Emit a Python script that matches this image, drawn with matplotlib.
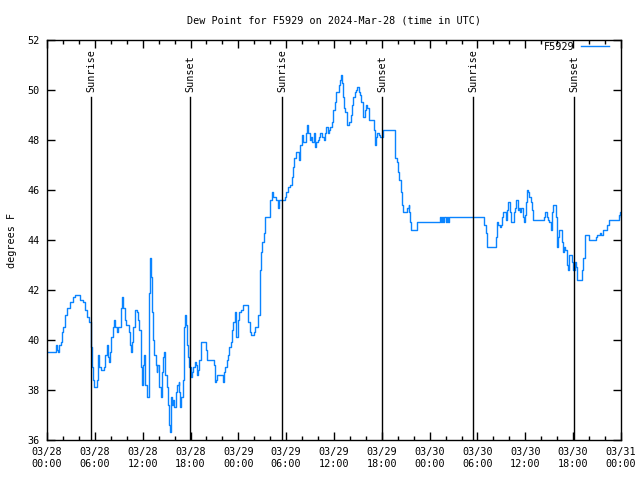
import matplotlib
matplotlib.use('Agg')
import matplotlib.pyplot as plt
import numpy as np

# hours after 2024-03-28 00:00 UTC, dew point in F
hours = [0.13, 0.88, 1.07, 1.25, 1.38, 1.5, 1.72, 1.88, 2.04, 2.22, 2.47, 2.89, 3.3, 3.47, 3.98, 4.14,
         4.48, 4.73, 4.98, 5.23, 5.48, 5.56, 5.64, 5.81, 5.93, 6.23, 6.31, 6.43, 6.56, 6.74, 6.99, 7.15,
         7.31, 7.49, 7.61, 7.74, 7.9, 8.07, 8.24, 8.4, 8.57, 8.74, 8.91, 9.16, 9.32, 9.45, 9.57, 9.75,
         9.91, 10.16, 10.32, 10.41, 10.54, 10.66, 10.83, 11.0, 11.25, 11.41, 11.58, 11.75, 11.92, 12.04,
         12.17, 12.33, 12.51, 12.76, 12.83, 12.96, 13.05, 13.17, 13.33, 13.46, 13.64, 13.76, 13.84, 14.01,
         14.09, 14.26, 14.43, 14.59, 14.71, 14.84, 15.02, 15.18, 15.34, 15.43, 15.59, 15.72, 15.84, 15.97,
         16.18, 16.34, 16.52, 16.6, 16.72, 16.85, 17.02, 17.1, 17.22, 17.35, 17.44, 17.52, 17.69, 17.85,
         18.03, 18.19, 18.35, 18.53, 18.69, 18.78, 18.94, 19.1, 19.28, 19.36, 19.86, 19.94, 20.11, 20.86,
         20.95, 21.11, 21.2, 21.36, 21.86, 22.04, 22.2, 22.37, 22.54, 22.7, 22.87, 23.04, 23.21, 23.37,
         23.54, 23.62, 23.75, 23.92, 24.08, 24.34, 24.59, 25.09, 25.25, 25.46, 25.59, 25.84, 25.93, 26.09,
         26.34, 26.5, 26.68, 26.76, 26.84, 27.01, 27.18, 27.35, 27.76, 27.93, 28.01, 28.19, 28.35, 28.76,
         28.94, 29.1, 29.35, 29.69, 29.85, 30.02, 30.27, 30.52, 30.69, 30.86, 31.02, 31.2, 31.45, 31.61,
         31.77, 31.95, 32.11, 32.45, 32.53, 32.65, 32.78, 32.95, 33.12, 33.28, 33.46, 33.62, 33.78, 33.96,
         34.12, 34.28, 34.46, 34.71, 34.87, 35.04, 35.21, 35.37, 35.54, 35.71, 35.88, 36.09, 36.25, 36.59,
         36.75, 36.84, 36.97, 37.09, 37.26, 37.42, 37.59, 37.67, 37.85, 38.01, 38.1, 38.26, 38.42, 38.6,
         38.76, 38.92, 39.1, 39.26, 39.43, 39.6, 39.68, 39.85, 40.02, 40.18, 40.36, 40.93, 41.02, 41.18,
         41.27, 41.43, 41.61, 41.77, 41.94, 42.11, 43.44, 43.62, 43.87, 44.03, 44.19, 44.37, 44.53, 44.7,
         45.12, 45.2, 45.37, 45.45, 45.53, 45.7, 46.2, 46.37, 49.17, 49.3, 49.42, 49.55, 49.67, 49.86,
         50.05, 50.18, 50.3, 50.43, 54.73, 54.86, 55.03, 55.19, 56.2, 56.28, 56.45, 56.61, 56.79, 56.95,
         57.11, 57.2, 57.36, 57.54, 57.7, 57.87, 58.04, 58.2, 58.37, 58.54, 58.71, 58.87, 59.04, 59.21,
         59.37, 59.5, 59.67, 59.83, 59.92, 60.09, 60.17, 60.34, 60.5, 60.67, 60.84, 60.92, 61.0, 62.25,
         62.34, 62.5, 62.68, 62.84, 63.0, 63.18, 63.26, 63.34, 63.51, 63.76, 63.85, 63.94, 64.01, 64.1,
         64.26, 64.51, 64.6, 64.77, 64.85, 65.02, 65.19, 65.35, 65.51, 65.69, 65.86, 66.02, 66.19, 66.36,
         66.52, 66.7, 67.02, 67.11, 67.28, 67.45, 67.87, 68.03, 68.78, 68.87, 69.03, 69.37, 69.53, 69.7,
         70.03, 70.28, 70.45, 71.54, 71.71, 71.88, 71.96]
dewpt = [39.5, 39.5, 39.8, 39.6, 39.5, 39.8, 39.9, 40.3, 40.5, 41.0, 41.3, 41.5, 41.7, 41.8, 41.8, 41.6,
         41.5, 41.2, 40.9, 40.7, 40.4, 39.7, 38.9, 38.4, 38.1, 38.1, 38.4, 39.4, 38.9, 38.8, 38.8, 38.9,
         39.4, 39.8, 39.3, 39.1, 39.5, 40.1, 40.5, 40.8, 40.5, 40.3, 40.5, 40.5, 41.3, 41.7, 41.3, 40.8,
         40.6, 40.6, 40.3, 39.8, 39.5, 39.9, 40.5, 41.2, 41.1, 40.8, 40.4, 38.9, 38.2, 39.0,
         39.4, 38.2, 37.7, 37.7, 41.9, 43.3, 42.5, 41.1, 40.0, 39.4, 39.0, 38.7, 39.0, 38.8,
         38.1, 37.7, 38.7, 39.3, 39.5, 38.6, 38.1, 37.4, 36.6, 36.3, 37.7, 37.4, 37.6, 37.3,
         37.9, 38.2, 38.3, 37.9, 37.3, 37.7, 37.7, 38.4, 40.5, 41.0, 40.6, 39.8, 39.3, 38.9,
         38.5, 38.7, 38.9, 39.1, 39.0, 38.6, 38.8, 39.2, 39.6, 39.9, 39.9, 39.6, 39.2, 39.2,
         39.0, 38.3, 38.4, 38.6, 38.6, 38.3, 38.7, 38.9, 39.2, 39.4, 39.7, 39.9, 40.4, 40.7,
         41.0, 41.1, 40.1, 40.8, 41.1, 41.2, 41.4, 41.4, 40.7, 40.3, 40.2, 40.2, 40.3, 40.5,
         40.5, 41.0, 41.7, 42.8, 43.5, 43.9, 44.3, 44.9, 44.9, 45.2, 45.6, 45.9, 45.7, 45.6,
         45.3, 45.6, 45.6, 45.6, 45.7, 45.9, 46.1, 46.2, 46.5, 46.9, 47.3, 47.5, 47.5, 47.2,
         47.8, 48.2, 47.9, 47.9, 48.3, 48.6, 48.3, 48.0, 48.1, 47.9, 48.3, 47.7, 47.9, 48.0,
         48.1, 48.3, 48.1, 48.0, 48.3, 48.5, 48.3, 48.4, 48.5, 48.7, 49.2, 49.5, 49.9, 50.2,
         50.4, 50.6, 50.3, 49.7, 49.3, 49.1, 48.8, 48.6, 48.7, 48.7, 49.0, 49.4, 49.7, 49.9,
         50.0, 50.1, 49.9, 49.8, 49.5, 49.2, 48.9, 49.2, 49.4, 49.3, 48.8, 48.8, 48.4, 47.8,
         48.1, 48.3, 48.2, 48.1, 48.1, 48.4, 48.4, 47.3, 47.1, 46.7, 46.4, 45.9, 45.4, 45.1,
         45.1, 45.3, 45.4, 45.1, 44.7, 44.4, 44.4, 44.7, 44.7, 44.9, 44.7, 44.9, 44.7, 44.9,
         44.7, 44.9, 44.7, 44.9, 44.9, 44.6, 44.3, 43.7, 43.7, 44.1, 44.7, 44.6, 44.5, 44.6,
         44.9, 45.1, 45.1, 44.8, 45.2, 45.5, 45.1, 44.7, 44.7, 45.1, 45.3, 45.6, 45.2, 45.3,
         45.1, 45.3, 44.9, 44.7, 45.0, 45.5, 46.0, 45.9, 45.7, 45.5, 45.2, 44.9, 44.8, 44.8,
         44.9, 45.1, 44.9, 44.8, 44.7, 44.6, 44.4, 45.1, 45.4, 45.4, 44.9, 44.2, 43.7, 44.1,
         44.4, 44.4, 43.9, 43.5, 43.7, 43.6, 43.0, 42.8, 43.4, 43.4, 43.1, 42.8, 43.1, 42.9,
         42.4, 42.4, 42.4, 42.8, 43.3, 44.2, 44.2, 44.0, 44.0, 44.1, 44.2, 44.3, 44.2, 44.4,
         44.4, 44.6, 44.8, 44.8, 45.0, 45.1, 44.9]

sunrise = [5.52, 29.48, 53.44]
sunset = [17.94, 42.02, 66.1]

tick_hours = list(range(0, 73, 6))
tick_labels = ['03/28\n00:00', '03/28\n06:00', '03/28\n12:00', '03/28\n18:00',
               '03/29\n00:00', '03/29\n06:00', '03/29\n12:00', '03/29\n18:00',
               '03/30\n00:00', '03/30\n06:00', '03/30\n12:00', '03/30\n18:00',
               '03/31\n00:00']

plt.rcParams['font.family'] = ['DejaVu Sans Mono']
plt.rcParams['font.size'] = 7.3

fig = plt.figure(figsize=(6.4, 4.8), dpi=100)
ax = fig.add_axes([47 / 640, 40 / 480, 574 / 640, 400 / 480])

ax.plot(hours, dewpt, color='#0a84ff', lw=1.0, drawstyle='steps-post', label='F5929')

for h in sunrise:
    ax.plot([h, h], [36, 49.7], color='black', lw=1.0)
    ax.text(h, 49.9, 'Sunrise', rotation=90, ha='center', va='bottom')
for h in sunset:
    ax.plot([h, h], [36, 49.7], color='black', lw=1.0)
    ax.text(h, 49.9, 'Sunset', rotation=90, ha='center', va='bottom')

ax.set_xlim(0, 72)
ax.set_ylim(36, 52)
ax.set_xticks(tick_hours)
ax.set_xticklabels(tick_labels)
ax.set_xticks(np.arange(0, 73, 2), minor=True)
ax.set_yticks(np.arange(36, 53, 2))
ax.tick_params(which='both', direction='in', top=True, right=True, width=1)
ax.tick_params(which='major', length=6, pad=5)
ax.tick_params(which='minor', length=3)
for s in ax.spines.values():
    s.set_linewidth(1.0)

ax.set_ylabel('degrees F', labelpad=8)
ax.set_title('Dew Point for F5929 on 2024-Mar-28 (time in UTC)', fontsize=7.3, pad=12)
ax.legend(loc='upper right', bbox_to_anchor=(0.979, 0.995), frameon=False, markerfirst=False,
          handlelength=2.8, handletextpad=0.6, borderaxespad=0, borderpad=0)

fig.savefig('out.png', dpi=100)
